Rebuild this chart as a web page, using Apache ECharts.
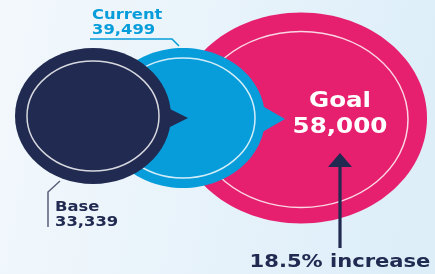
<!DOCTYPE html>
<html>
<head>
<meta charset="utf-8">
<script src="https://cdn.jsdelivr.net/npm/echarts@6/dist/echarts.min.js"></script>
<style>
  html, body { margin: 0; padding: 0; }
  #chart { width: 435px; height: 274px; }
</style>
</head>
<body>
<div id="chart"></div>
<script>
// values, drawn back to front
var names = ['Goal', 'Current', 'Base'];
var values = [58000, 39499, 33339];
var increaseText = '18.5% increase';

// layout in the 435x274 frame (the original art is stretched sideways)
var centres = [[301, 118], [183, 118], [93, 116]];
var radii = [[126, 105.5], [82, 70], [78, 68]];
var rings = [[107, 88], [72, 60], [66, 55]];
var pointers = [null, [[252, 100], [285, 119], [252, 138]], [[158, 103], [188, 118], [158, 133]]];
var colours = ['#e61f6e', '#079dda', '#212a50'];

var labelAt = [[340, 102], [92, 15], [55, 207]];
var labelGap = [26, 15, 15];
var leaders = [null, [[90, 39], [172, 39], [179, 46]], [[48, 227], [48, 192], [60, 181]]];
var leaderColours = [null, '#079dda', '#5a6079'];
var arrowLine = [[340, 248], [340, 165]];
var arrowHead = [[340, 153], [328, 167], [352, 167]];
var increaseAt = [340, 262];

var SX = 1.17;
var FONT = '"DejaVu Sans", sans-serif';

function fmt(v) { return v.toLocaleString('en-US'); }

var chart = echarts.init(document.getElementById('chart'));

var circleData = centres.map(function (c, i) { return [c[0], c[1], i]; });

function pts(api, list) {
  return list.map(function (p) { return api.coord(p); });
}

function renderCircle(params, api) {
  var i = params.dataIndex;
  var c = api.coord([api.value(0), api.value(1)]);
  var r = api.size(radii[i]);
  var ri = api.size(rings[i]);
  var kids = [{
    type: 'ellipse',
    shape: { cx: c[0], cy: c[1], rx: r[0], ry: r[1] },
    style: { fill: colours[i] }
  }];
  if (pointers[i]) {
    kids.push({
      type: 'polygon',
      shape: { points: pts(api, pointers[i]) },
      style: { fill: colours[i] }
    });
  }
  kids.push({
    type: 'ellipse',
    shape: { cx: c[0], cy: c[1] + (i === 0 ? 1.5 : 0), rx: ri[0], ry: ri[1] },
    style: { fill: 'none', stroke: 'rgba(255,255,255,0.82)', lineWidth: 1.5 }
  });
  return { type: 'group', children: kids };
}

function text(p, str, font, colour, align) {
  return {
    type: 'text',
    x: p[0], y: p[1],
    scaleX: SX,
    style: {
      x: 0, y: 0,
      text: str,
      font: font,
      fill: colour,
      textAlign: align,
      textVerticalAlign: 'middle'
    }
  };
}

function renderLabel(params, api) {
  var i = params.dataIndex;
  var p = api.coord(labelAt[i]);
  var q = api.coord([labelAt[i][0], labelAt[i][1] + labelGap[i]]);
  var kids = [];
  if (i === 0) {
    kids.push(text(p, names[i], 'bold 21px ' + FONT, '#ffffff', 'center'));
    kids.push(text(q, fmt(values[i]), 'bold 21px ' + FONT, '#ffffff', 'center'));
    kids.push({
      type: 'polyline',
      shape: { points: pts(api, arrowLine) },
      style: { stroke: colours[2], lineWidth: 3.2, fill: 'none' }
    });
    kids.push({
      type: 'polygon',
      shape: { points: pts(api, arrowHead) },
      style: { fill: colours[2] }
    });
    kids.push(text(api.coord(increaseAt), increaseText, 'bold 18px ' + FONT, colours[2], 'center'));
  } else {
    kids.push({
      type: 'polyline',
      shape: { points: pts(api, leaders[i]) },
      style: { stroke: leaderColours[i], lineWidth: 1.5, fill: 'none' }
    });
    kids.push(text(p, names[i], 'bold 14px ' + FONT, colours[i], 'left'));
    kids.push(text(q, fmt(values[i]), 'bold 14px ' + FONT, colours[i], 'left'));
  }
  return { type: 'group', children: kids };
}

chart.setOption({
  animation: false,
  backgroundColor: {
    type: 'linear', x: 0, y: 0, x2: 1, y2: 0.3,
    colorStops: [
      { offset: 0, color: '#f3f8fc' },
      { offset: 1, color: '#ddeef9' }
    ]
  },
  grid: { left: 0, right: 0, top: 0, bottom: 0 },
  xAxis: { type: 'value', min: 0, max: 435, show: false },
  yAxis: { type: 'value', min: 0, max: 274, inverse: true, show: false },
  series: [
    {
      type: 'custom',
      renderItem: renderCircle,
      data: circleData,
      silent: true
    },
    {
      type: 'custom',
      renderItem: renderLabel,
      data: circleData,
      silent: true,
      z: 3
    }
  ]
});
</script>
</body>
</html>
